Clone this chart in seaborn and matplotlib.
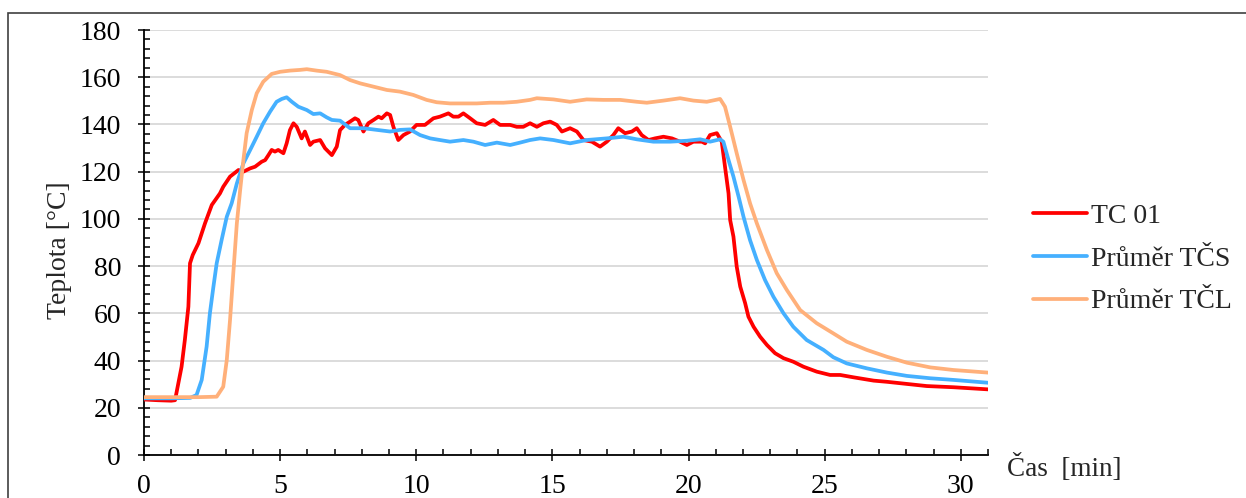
import matplotlib
matplotlib.use("Agg")
import matplotlib.pyplot as plt
import seaborn as sns
import pandas as pd
from matplotlib.ticker import MultipleLocator
from matplotlib.patches import Rectangle

# TC 01 (red)
tc_t = [0, 0.5, 1.0, 1.14, 1.38, 1.5, 1.63, 1.69, 1.79, 2.0, 2.24, 2.49, 2.79, 2.91, 3.16,
        3.47, 3.65, 3.9, 4.08, 4.32, 4.45, 4.57, 4.69, 4.81, 4.93, 5.12, 5.24, 5.36, 5.49,
        5.61, 5.79, 5.91, 6.1, 6.22, 6.47, 6.65, 6.9, 7.08, 7.2, 7.38, 7.57, 7.75, 7.87,
        8.06, 8.24, 8.43, 8.61, 8.73, 8.92, 9.04, 9.16, 9.34, 9.53, 9.77, 10.01, 10.32,
        10.63, 10.87, 11.18, 11.36, 11.55, 11.73, 11.98, 12.22, 12.53, 12.83, 13.08, 13.45,
        13.69, 13.93, 14.18, 14.43, 14.67, 14.92, 15.16, 15.35, 15.65, 15.9, 16.14, 16.45,
        16.75, 17.0, 17.24, 17.42, 17.67, 17.92, 18.1, 18.28, 18.53, 18.77, 19.08, 19.39,
        19.69, 19.94, 20.18, 20.49, 20.61, 20.79, 21.04, 21.22, 21.34, 21.47, 21.53, 21.65,
        21.77, 21.9, 22.08, 22.2, 22.39, 22.63, 22.88, 23.18, 23.49, 23.85, 24.22, 24.71,
        25.2, 25.57, 26.06, 26.8, 27.29, 28.02, 28.75, 29.73, 31.0]
tc_v = [23.5, 23.2, 23.0, 23.2, 37.4, 48.7, 62.8, 81.2, 84.7, 89.7, 98.1, 105.9, 110.8, 113.6,
        117.9, 120.7, 120.0, 121.4, 122.1, 124.2, 124.9, 127.0, 129.2, 128.5, 129.2, 127.8,
        132.0, 137.6, 140.5, 139.0, 134.1, 137.0, 131.3, 132.7, 133.4, 129.9, 127.0, 130.6,
        137.6, 139.8, 141.2, 142.6, 141.9, 137.0, 140.5, 141.9, 143.3, 142.6, 144.7, 144.0,
        139.0, 133.4, 135.5, 137.0, 139.8, 139.8, 142.6, 143.3, 144.7, 143.3, 143.3, 144.7,
        142.6, 140.5, 139.8, 141.9, 139.8, 139.8, 139.0, 139.0, 140.5, 139.0, 140.5, 141.2,
        139.8, 137.0, 138.4, 137.0, 133.4, 132.7, 130.6, 132.7, 135.5, 138.4, 136.3, 137.0,
        138.4, 135.5, 133.4, 134.1, 134.8, 134.1, 132.7, 131.3, 132.7, 132.7, 132.0, 135.5,
        136.3, 132.7, 122.1, 110.8, 99.5, 92.5, 79.8, 71.3, 64.3, 58.6, 54.3, 50.1, 46.6,
        43.1, 41.0, 39.5, 37.4, 35.3, 33.9, 33.9, 32.9, 31.5, 31.0, 30.1, 29.2, 28.7, 27.8]

# Průměr TČS (blue)
tcs_t = [0, 1.0, 1.7, 1.93, 2.12, 2.3, 2.42, 2.55, 2.67, 2.85, 3.04, 3.22, 3.41, 3.65, 3.9,
         4.14, 4.38, 4.63, 4.87, 5.06, 5.24, 5.43, 5.67, 5.98, 6.22, 6.47, 6.71, 6.9, 7.2,
         7.57, 8.06, 8.55, 9.04, 9.4, 9.77, 10.14, 10.51, 10.87, 11.24, 11.73, 12.1, 12.53,
         12.96, 13.45, 13.81, 14.18, 14.55, 15.04, 15.65, 16.26, 17.0, 17.61, 18.1, 18.71,
         19.32, 19.94, 20.43, 20.79, 21.16, 21.28, 21.47, 21.65, 21.84, 22.02, 22.26, 22.51,
         22.81, 23.12, 23.49, 23.85, 24.34, 24.96, 25.32, 25.81, 26.55, 27.29, 28.02, 28.88,
         29.73, 31.0]
tcs_v = [24.0, 24.0, 24.2, 25.4, 31.8, 45.9, 60.0, 71.3, 81.2, 91.0, 100.9, 106.6, 115.0,
         123.5, 129.2, 134.8, 140.5, 145.4, 149.6, 150.8, 151.5, 149.6, 147.5, 146.1, 144.4,
         144.7, 143.0, 141.9, 141.6, 138.4, 138.4, 137.7, 137.0, 137.7, 137.9, 135.5, 134.1,
         133.4, 132.7, 133.4, 132.7, 131.3, 132.3, 131.3, 132.3, 133.4, 134.1, 133.4, 132.0,
         133.4, 134.1, 134.8, 133.7, 132.7, 132.7, 133.1, 133.7, 132.7, 133.7, 132.7, 124.9,
         117.9, 109.4, 100.9, 91.0, 82.6, 74.1, 67.0, 60.0, 54.3, 48.7, 44.5, 41.4, 38.8,
         36.7, 34.9, 33.5, 32.5, 31.8, 30.6]

# Průměr TČL (orange)
tcl_t = [0, 1.0, 2.0, 2.67, 2.91, 3.04, 3.16, 3.28, 3.41, 3.53, 3.65, 3.77, 3.96, 4.14, 4.38,
         4.69, 5.0, 5.36, 5.73, 5.98, 6.34, 6.71, 7.2, 7.57, 7.94, 8.43, 8.92, 9.4, 9.89,
         10.38, 10.75, 11.24, 11.73, 12.22, 12.71, 13.2, 13.69, 14.18, 14.43, 15.04, 15.65,
         16.26, 16.87, 17.49, 18.1, 18.47, 19.08, 19.69, 20.18, 20.67, 21.16, 21.34, 21.53,
         21.77, 22.02, 22.26, 22.51, 22.88, 23.24, 23.61, 24.1, 24.71, 25.32, 25.81, 26.55,
         27.29, 28.02, 28.88, 29.73, 31.0]
tcl_v = [24.5, 24.5, 24.5, 24.7, 28.9, 40.2, 57.2, 77.0, 98.1, 112.0, 124.9, 136.3, 146.1,
         153.2, 158.1, 161.4, 162.3, 162.8, 163.1, 163.4, 162.8, 162.3, 160.9, 158.8, 157.4,
         156.0, 154.6, 153.9, 152.5, 150.4, 149.4, 148.9, 148.9, 148.9, 149.2, 149.2, 149.6,
         150.4, 151.1, 150.6, 149.6, 150.6, 150.4, 150.4, 149.6, 149.2, 150.1, 151.1, 150.1,
         149.6, 150.8, 147.5, 139.0, 127.8, 116.5, 106.6, 98.1, 86.8, 77.0, 69.9, 61.4, 55.8,
         51.5, 48.0, 44.5, 41.6, 39.1, 37.1, 36.0, 34.9]

labels = ["TC 01", "Průměr TČS", "Průměr TČL"]
colors = ["#FF0000", "#45B0FF", "#FFB07A"]

df = pd.concat([
    pd.DataFrame({"t": tc_t, "T": tc_v, "s": labels[0]}),
    pd.DataFrame({"t": tcs_t, "T": tcs_v, "s": labels[1]}),
    pd.DataFrame({"t": tcl_t, "T": tcl_v, "s": labels[2]}),
])

sns.set_style("white")
plt.rcParams["font.family"] = ["Liberation Serif", "DejaVu Serif"]
plt.rcParams["font.size"] = 20

fig = plt.figure(figsize=(12.46, 4.98), dpi=100)
ax = fig.add_axes([144 / 1246, 1 - 455 / 498, (988 - 144) / 1246, (455 - 30) / 498])

sns.lineplot(data=df, x="t", y="T", hue="s", palette=dict(zip(labels, colors)),
             linewidth=2.7, ax=ax, sort=False, estimator=None, zorder=3)

ax.set_xlim(0, 31)
ax.set_ylim(0, 180)
ax.xaxis.set_major_locator(MultipleLocator(5))
ax.xaxis.set_minor_locator(MultipleLocator(1))
ax.yaxis.set_major_locator(MultipleLocator(20))
ax.yaxis.set_minor_locator(MultipleLocator(4))
ax.tick_params(which="major", direction="inout", length=9, width=1.1, colors="black",
               labelsize=20, left=True, bottom=True)
ax.tick_params(axis="y", which="major", pad=12)
ax.tick_params(axis="x", which="major", pad=9)
ax.tick_params(which="minor", direction="in", length=4.5, width=1.1, colors="black",
               left=True, bottom=True)

ax.grid(axis="y", color="#D9D9D9", linewidth=1.3, zorder=0)
ax.grid(axis="x", visible=False)
for side in ["top", "right"]:
    ax.spines[side].set_visible(False)
for side in ["left", "bottom"]:
    ax.spines[side].set_color("black")
    ax.spines[side].set_linewidth(1.3)

ax.set_xlabel("")
ax.set_ylabel("")
fig.text(60 / 1246, 1 - 250 / 498, "Teplota [°C]", rotation=90, ha="center", va="center",
         fontsize=20)
fig.text(1007 / 1246, 1 - 468 / 498, "Čas  [min]", ha="left", va="center", fontsize=19.5)

handles, lbls = ax.get_legend_handles_labels()
ax.legend(handles, lbls, loc="center left", bbox_to_anchor=(1033 / 1246, 1 - 259 / 498),
          bbox_transform=fig.transFigure, frameon=False, fontsize=20, handlelength=1.95,
          handletextpad=0.15, labelspacing=0.62, borderpad=0, borderaxespad=0)

fig.patches.append(Rectangle((8 / 1246, -0.1), 1.2, 1.1 - 13 / 498,
                             transform=fig.transFigure, fill=False, edgecolor="#404040",
                             linewidth=1.2, figure=fig))

fig.savefig("out.png", dpi=100)
